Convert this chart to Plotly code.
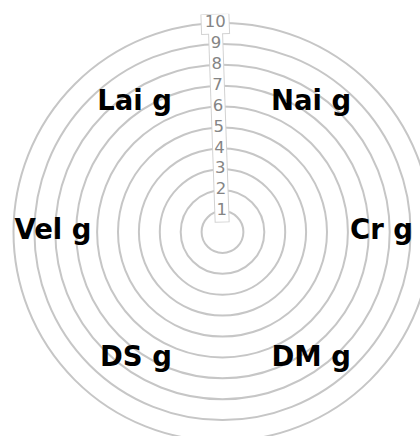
import numpy as np
import plotly.graph_objects as go

# ---------------- data ----------------
CATEGORIES = ["Cr g", "Nai g", "Lai g", "Vel g", "DS g", "DM g"]
RADIAL_TICKS = [1, 2, 3, 4, 5, 6, 7, 8, 9, 10]
TICK_LABELS = ["1", "2", "3", "4", "5", "6", "7", "8", "9", "10"]

# ---------------- layout / style constants ----------------
FIG_W, FIG_H = 460, 470
CX, CY = 222.5, 232.0          # circle centre in page pixels
PX_PER_UNIT = 20.9             # pixels per radial unit
RMAX = 10.45
# label placement (radius, angle in degrees) for each category
LABEL_R = [7.61, 7.48, 7.47, 8.11, 7.35, 7.41]
LABEL_THETA = [0, 55.5, 124.3, 180, 235.7, 304.9]
TICK_THETA = 92.0
GRID_COLOR = "#c6c6c6"
BOX_BORDER = "#d2d2d2"

rad_px = RMAX * PX_PER_UNIT
dom_x = [(CX - rad_px) / FIG_W, (CX + rad_px) / FIG_W]
dom_y = [(FIG_H - CY - rad_px) / FIG_H, (FIG_H - CY + rad_px) / FIG_H]

fig = go.Figure()

px1 = 1.0 / PX_PER_UNIT
col_lo = min(RADIAL_TICKS) - 0.55
col_hi = max(RADIAL_TICKS) - 0.5
top_lo = max(RADIAL_TICKS) - 0.54
top_hi = max(RADIAL_TICKS) + 0.46


def seg(r0, r1, width, color):
    fig.add_trace(go.Scatterpolar(
        r=[r0, r1], theta=[TICK_THETA, TICK_THETA], mode="lines",
        line=dict(color=color, width=width), hoverinfo="skip", showlegend=False))


# tick label boxes (column + wider box for the two-digit label)
seg(col_lo, col_hi, 15, BOX_BORDER)
seg(top_lo, top_hi, 29, BOX_BORDER)
seg(col_lo + px1, col_hi + 0.3, 13, "white")
seg(top_lo + px1, top_hi - px1, 27, "white")

# tick labels
fig.add_trace(go.Scatterpolar(
    r=RADIAL_TICKS, theta=[TICK_THETA] * len(RADIAL_TICKS), mode="text",
    text=TICK_LABELS, textposition="middle center",
    textfont=dict(family="DejaVu Sans", size=16.5, color="#858585"),
    hoverinfo="skip", showlegend=False))

# category labels
fig.add_trace(go.Scatterpolar(
    r=LABEL_R, theta=LABEL_THETA, mode="text", text=CATEGORIES,
    textposition="middle center",
    textfont=dict(family="DejaVu Sans", size=27.5, color="black", weight="bold"),
    hoverinfo="skip", showlegend=False))

fig.update_layout(
    width=FIG_W, height=FIG_H,
    margin=dict(l=0, r=0, t=0, b=0, pad=0),
    paper_bgcolor="white", plot_bgcolor="white",
    showlegend=False,
    polar=dict(
        domain=dict(x=dom_x, y=dom_y),
        bgcolor="white",
        radialaxis=dict(
            range=[0, RMAX], tickvals=RADIAL_TICKS, showticklabels=False,
            ticks="", showline=False, showgrid=True, gridcolor=GRID_COLOR,
            gridwidth=1.6, layer="below traces"),
        angularaxis=dict(
            type="linear", rotation=0, direction="counterclockwise",
            showticklabels=False, ticks="", showline=False, showgrid=False,
            layer="below traces"),
    ),
)

fig.write_html(
    "out.html",
    config={"displayModeBar": False},
    post_script="document.body.style.margin='0';document.body.style.overflow='hidden';",
)
